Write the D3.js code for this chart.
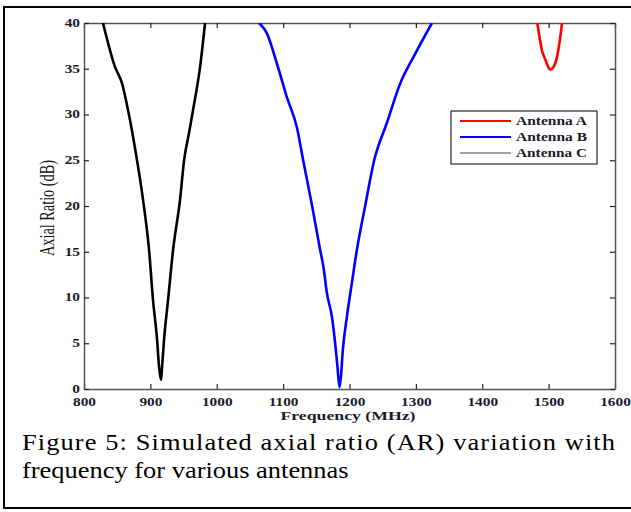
<!DOCTYPE html>
<html>
<head>
<meta charset="utf-8">
<script src="https://cdn.jsdelivr.net/npm/d3@7"></script>
<style>
  body { margin: 0; background: #fff; }
  svg text { font-family: "Liberation Serif", "Times New Roman", serif; }
</style>
</head>
<body>
<div id="chart"></div>
<script>
// frequency (MHz) and axial ratio (dB)
const freqA = [1483, 1490, 1495, 1502.5, 1507.5, 1512.7, 1517.6, 1520.2];
const arA   = [40, 37.0, 36.0, 34.9, 35.2, 36.3, 38.5, 40];

const freqB = [1063.8, 1075.4, 1090.5, 1105.6, 1120.7, 1130.2, 1143.7, 1155.8, 1160.8, 1165.9,
               1173.5, 1178.4, 1181.9, 1184.9, 1187.0, 1190.0, 1196.1, 1203.6, 1211.1, 1223.6,
               1237.2, 1256.4, 1276.4, 1296.5, 1324.2];
const arB   = [40, 38.9, 35.6, 31.9, 28.6, 25.0, 20.0, 15.2, 13.3, 10.5,
               7.9, 5.0, 2.4, 0.2, 1.3, 4.3, 7.9, 11.6, 15.2, 20.0,
               25.0, 29.1, 33.4, 36.3, 40];

const freqC = [828.6, 846.7, 857.3, 866.3, 879.9, 888.9, 898.0, 904.0, 910.1, 913.1,
               916.1, 917.6, 920.6, 926.6, 934.2, 944.7, 950.8, 958.3, 964.3, 974.9, 982.4];
const arC   = [40, 35.2, 33.4, 30.5, 25.0, 20.7, 15.2, 9.7, 5.4, 2.4,
               1.0, 2.4, 5.4, 9.7, 15.2, 20.7, 25.0, 28.0, 30.5, 35.2, 40];

const xTicks = [800, 900, 1000, 1100, 1200, 1300, 1400, 1500, 1600];
const yTicks = [0, 5, 10, 15, 20, 25, 30, 35, 40];
const seriesNames = ["Antenna A", "Antenna B", "Antenna C"];

const width = 631, height = 512;
const stretch = 1.18; // the scanned figure is a bit wider than tall
const svg = d3.select("#chart").append("svg")
    .attr("width", width)
    .attr("height", height);

// outer frame of the figure
svg.append("rect")
    .attr("x", 4).attr("y", 7)
    .attr("width", 650).attr("height", 501)
    .attr("fill", "none")
    .attr("stroke", "#000")
    .attr("stroke-width", 2);

const x = d3.scaleLinear().domain([800, 1600]).range([84, 615]);
const y = d3.scaleLinear().domain([0, 40]).range([389, 23]);

svg.append("clipPath").attr("id", "plotClip")
    .append("rect")
    .attr("x", 84).attr("y", 23)
    .attr("width", 531).attr("height", 366);

// axes, ticks pointing inwards
const axisColor = "#555";
const labelColor = "#1b1b2b";

const axBottom = svg.append("g")
    .attr("transform", "translate(0,389)")
    .call(d3.axisBottom(x).tickValues(xTicks).tickFormat(d3.format("d"))
        .tickSize(-5).tickPadding(9).tickSizeOuter(0));
const axTop = svg.append("g")
    .attr("transform", "translate(0,23)")
    .call(d3.axisTop(x).tickValues(xTicks).tickSize(-5).tickSizeOuter(0).tickFormat(""));
const axLeft = svg.append("g")
    .attr("transform", "translate(84,0)")
    .call(d3.axisLeft(y).tickValues(yTicks).tickSize(-5).tickPadding(3.4).tickSizeOuter(0));
const axRight = svg.append("g")
    .attr("transform", "translate(615,0)")
    .call(d3.axisRight(y).tickValues(yTicks).tickSize(-5).tickSizeOuter(0).tickFormat(""));

[axBottom, axTop, axLeft, axRight].forEach(g => {
  g.select(".domain").attr("stroke", axisColor).attr("stroke-width", 1.5);
  g.selectAll(".tick line").attr("stroke", "#222").attr("stroke-width", 1.2);
  g.selectAll(".tick text")
      .attr("fill", labelColor)
      .attr("font-weight", "bold")
      .attr("font-size", 13)
      .attr("transform", "scale(" + stretch + ",1)");
});
axBottom.selectAll(".tick text").attr("dy", "0.6em");
axLeft.selectAll(".tick text").attr("dy", "0.25em");

// axis titles
svg.append("text")
    .attr("x", 348).attr("y", 420)
    .attr("text-anchor", "middle")
    .attr("font-weight", "bold")
    .attr("font-size", 13)
    .attr("textLength", 135)
    .attr("lengthAdjust", "spacingAndGlyphs")
    .attr("fill", labelColor)
    .text("Frequency (MHz)");

svg.append("text")
    .attr("transform", "translate(54,208) rotate(-90)")
    .attr("text-anchor", "middle")
    .attr("font-size", 20)
    .attr("textLength", 96)
    .attr("lengthAdjust", "spacingAndGlyphs")
    .attr("fill", "#111")
    .text("Axial Ratio (dB)");

// curves
const line = d3.line().x(d => x(d[0])).y(d => y(d[1])).curve(d3.curveMonotoneX);
const series = [
  { name: seriesNames[0], color: "#ff0000", pts: d3.zip(freqA, arA) },
  { name: seriesNames[1], color: "#0000ff", pts: d3.zip(freqB, arB) },
  { name: seriesNames[2], color: "#000000", pts: d3.zip(freqC, arC) }
];

svg.append("g").attr("clip-path", "url(#plotClip)")
  .selectAll("path")
  .data(series)
  .enter().append("path")
    .attr("d", d => line(d.pts))
    .attr("fill", "none")
    .attr("stroke", d => d.color)
    .attr("stroke-width", 2.6)
    .attr("stroke-linejoin", "round");

// legend
const legend = svg.append("g");
legend.append("rect")
    .attr("x", 451).attr("y", 111)
    .attr("width", 146).attr("height", 53)
    .attr("fill", "#fff")
    .attr("stroke", "#000")
    .attr("stroke-width", 1);

const rows = legend.selectAll(".row")
    .data(series)
    .enter().append("g")
    .attr("class", "row")
    .attr("transform", (d, i) => "translate(0," + [121, 137, 153][i] + ")");
rows.append("line")
    .attr("x1", 460).attr("x2", 511)
    .attr("stroke", d => d.color === "#000000" ? "#444" : d.color)
    .attr("stroke-width", (d, i) => i < 2 ? 2 : 1);
rows.append("text")
    .attr("x", 516).attr("y", 4)
    .attr("font-weight", "bold")
    .attr("font-size", 13)
    .attr("textLength", 71)
    .attr("lengthAdjust", "spacingAndGlyphs")
    .attr("fill", labelColor)
    .text(d => d.name);

// caption, justified first line
const capStretch = 1.15;
const caption = svg.append("g")
    .attr("transform", "translate(22,0) scale(" + capStretch + ",1)");
caption.append("text")
    .attr("x", 0).attr("y", 450)
    .attr("font-size", 23)
    .attr("textLength", 593 / capStretch)
    .attr("lengthAdjust", "spacing")
    .attr("fill", "#000")
    .text("Figure 5: Simulated axial ratio (AR) variation with");
caption.append("text")
    .attr("x", 0).attr("y", 478)
    .attr("font-size", 23)
    .attr("fill", "#000")
    .text("frequency for various antennas");
</script>
</body>
</html>
